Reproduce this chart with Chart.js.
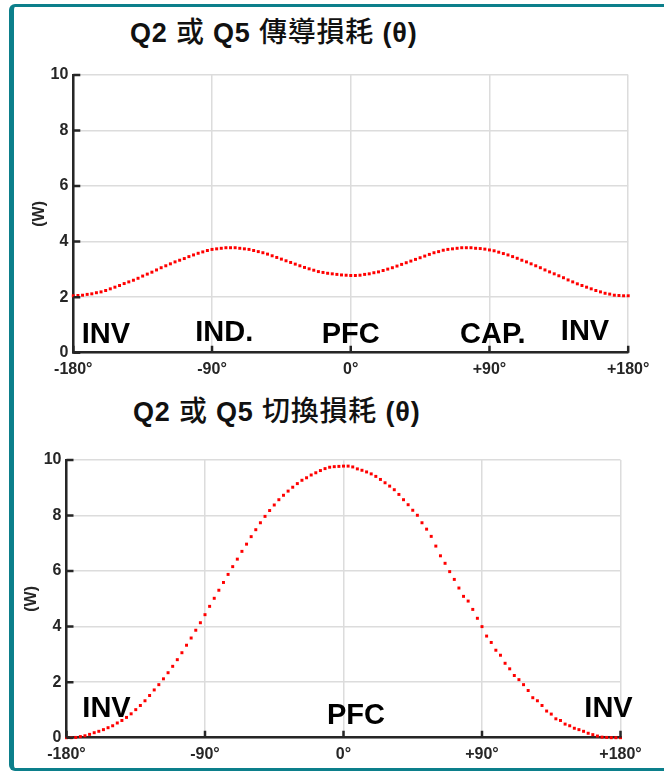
<!DOCTYPE html>
<html>
<head>
<meta charset="utf-8">
<script src="https://cdn.jsdelivr.net/npm/chart.js@4.4.1/dist/chart.umd.min.js"></script>
<style>
  html, body { margin: 0; padding: 0; background: #fff; }
  body { width: 664px; height: 773px; position: relative; overflow: hidden; }
  #frame {
    position: absolute; left: 9px; top: 4px; width: 720px; height: 761px;
    border: solid #0c7f8b; border-width: 3px 0 3px 5px; border-radius: 6px 0 0 6px;
  }
  canvas { position: absolute; left: 0; }
  #c1 { top: 0; }
  #c2 { top: 380px; }
  .title {
    position: absolute; white-space: nowrap; color: #111; letter-spacing: 0.8px;
    font: bold 27px "Liberation Sans", Arial, sans-serif; line-height: 30px;
  }
  .title .cjk { font-family: "Noto Sans CJK TC", sans-serif; font-weight: 500; font-size: 28px; }
</style>
</head>
<body>
<div id="frame"></div>
<div class="title" id="t1" style="left:130px; top:15px;">Q2 <span class="cjk">或</span> Q5 <span class="cjk">傳導損耗</span> (θ)</div>
<div class="title" id="t2" style="left:133px; top:394px;">Q2 <span class="cjk">或</span> Q5 <span class="cjk">切換損耗</span> (θ)</div>
<canvas id="c1" width="664" height="380"></canvas>
<canvas id="c2" width="664" height="393"></canvas>
<script>
// Phase angle θ in degrees (3° steps)
const angles = [
  -180,-177,-174,-171,-168,-165,-162,-159,-156,-153,
  -150,-147,-144,-141,-138,-135,-132,-129,-126,-123,
  -120,-117,-114,-111,-108,-105,-102,-99,-96,-93,
  -90,-87,-84,-81,-78,-75,-72,-69,-66,-63,
  -60,-57,-54,-51,-48,-45,-42,-39,-36,-33,
  -30,-27,-24,-21,-18,-15,-12,-9,-6,-3,
  0,3,6,9,12,15,18,21,24,27,
  30,33,36,39,42,45,48,51,54,57,
  60,63,66,69,72,75,78,81,84,87,
  90,93,96,99,102,105,108,111,114,117,
  120,123,126,129,132,135,138,141,144,147,
  150,153,156,159,162,165,168,171,174,177,
  180
];

// Q2 / Q5 conduction loss (W)
const conductionLoss = [
  2.05,2.06,2.07,2.10,2.12,2.16,2.19,2.24,2.30,2.36,
  2.42,2.49,2.55,2.61,2.68,2.76,2.83,2.90,2.98,3.06,
  3.13,3.20,3.27,3.33,3.39,3.46,3.52,3.58,3.63,3.68,
  3.72,3.74,3.76,3.78,3.78,3.78,3.76,3.74,3.72,3.68,
  3.64,3.60,3.55,3.49,3.43,3.37,3.31,3.25,3.19,3.13,
  3.07,3.02,2.97,2.92,2.89,2.86,2.84,2.82,2.80,2.79,
  2.78,2.78,2.79,2.82,2.84,2.88,2.91,2.96,3.01,3.06,
  3.12,3.18,3.24,3.30,3.36,3.42,3.48,3.54,3.60,3.64,
  3.69,3.72,3.74,3.76,3.78,3.78,3.78,3.76,3.75,3.73,
  3.70,3.67,3.62,3.57,3.52,3.46,3.40,3.33,3.27,3.20,
  3.13,3.06,2.98,2.91,2.84,2.77,2.70,2.62,2.55,2.48,
  2.42,2.36,2.30,2.24,2.19,2.14,2.11,2.07,2.06,2.05,
  2.05
];

// Q2 / Q5 switching loss (W)
const switchingLoss = [
  0.00,0.00,0.01,0.04,0.07,0.12,0.18,0.23,0.29,0.36,
  0.43,0.53,0.62,0.73,0.86,1.01,1.16,1.33,1.52,1.72,
  1.91,2.12,2.34,2.57,2.81,3.06,3.33,3.59,3.87,4.14,
  4.43,4.73,5.02,5.31,5.59,5.88,6.16,6.43,6.71,6.97,
  7.24,7.49,7.74,7.97,8.18,8.38,8.57,8.73,8.88,9.02,
  9.15,9.27,9.36,9.46,9.54,9.62,9.69,9.74,9.76,9.77,
  9.78,9.78,9.75,9.68,9.63,9.57,9.50,9.41,9.30,9.18,
  9.06,8.93,8.76,8.57,8.39,8.19,8.01,7.74,7.51,7.25,
  6.90,6.55,6.28,5.98,5.70,5.39,5.09,4.92,4.62,4.30,
  4.00,3.66,3.43,3.15,2.97,2.68,2.48,2.24,2.09,1.91,
  1.70,1.44,1.33,1.16,0.96,0.85,0.68,0.62,0.49,0.43,
  0.34,0.29,0.23,0.16,0.11,0.06,0.02,0.01,0.00,0.00,
  0.00
];

const xTickValues = [-180, -90, 0, 90, 180];
const xTickLabels = ['-180°', '-90°', '0°', '+90°', '+180°'];
const yTickValues = [0, 2, 4, 6, 8, 10];
const yTickLabels = ['0', '2', '4', '6', '8', '10'];

// Operating-region captions, anchored at (θ, W)
const conductionRegions = ['INV', 'IND.', 'PFC', 'CAP.', 'INV'];
const conductionRegionAngles = [-158.8, -82.1, 0, 92.2, 152];
const conductionRegionLevels = [0.35, 0.42, 0.35, 0.35, 0.45];
const switchingRegions = ['INV', 'PFC', 'INV'];
const switchingRegionAngles = [-154, 8.1, 172.2];
const switchingRegionLevels = [0.75, 0.49, 0.75];

const AXIS_COLOR = '#262626';
const TICK_FONT = { family: '"Liberation Sans", Arial, sans-serif', size: 16, weight: 'bold' };

// Region captions sit beneath the markers
const regionLabelPlugin = {
  id: 'regionLabels',
  beforeDatasetsDraw(chart, args, opts) {
    const { ctx, scales: { x, y } } = chart;
    ctx.save();
    ctx.font = 'bold 29px "Liberation Sans", Arial, sans-serif';
    ctx.fillStyle = '#000';
    ctx.textAlign = 'center';
    ctx.textBaseline = 'alphabetic';
    opts.texts.forEach((t, i) => {
      ctx.fillText(t, x.getPixelForValue(opts.angles[i]), y.getPixelForValue(opts.levels[i]));
    });
    ctx.restore();
  }
};

// Tick marks pointing into the plot area
const innerTickPlugin = {
  id: 'innerTicks',
  afterDraw(chart) {
    const { ctx, chartArea: a, scales: { x, y } } = chart;
    ctx.save();
    ctx.strokeStyle = AXIS_COLOR;
    ctx.lineWidth = 2.5;
    ctx.beginPath();
    y.ticks.forEach(t => {
      const py = y.getPixelForValue(t.value);
      ctx.moveTo(a.left, py); ctx.lineTo(a.left + 7, py);
    });
    x.ticks.forEach(t => {
      const px = x.getPixelForValue(t.value);
      ctx.moveTo(px, a.bottom); ctx.lineTo(px, a.bottom - 7);
    });
    ctx.stroke();
    ctx.restore();
  }
};

function makeChart(canvasId, values, regions, layout) {
  return new Chart(document.getElementById(canvasId), {
    type: 'line',
    data: {
      datasets: [{
        data: angles.map((a, i) => ({ x: a, y: values[i] })),
        showLine: false,
        pointStyle: 'rect',
        pointRadius: 2.1,
        pointBackgroundColor: '#ff0000',
        pointBorderColor: '#ff0000',
        pointBorderWidth: 0,
        clip: false
      }]
    },
    options: {
      responsive: false,
      animation: false,
      devicePixelRatio: 1,
      layout: { padding: { left: 0, top: layout.top, right: layout.right, bottom: 0 } },
      plugins: {
        legend: { display: false },
        tooltip: { enabled: false },
        regionLabels: regions
      },
      scales: {
        x: {
          type: 'linear', min: -180, max: 180,
          afterBuildTicks: s => { s.ticks = xTickValues.map(v => ({ value: v })); },
          afterFit: s => { s.height = layout.xHeight; },
          ticks: {
            callback: (v, i) => xTickLabels[i],
            font: TICK_FONT, color: AXIS_COLOR, padding: 7,
            maxRotation: 0, autoSkip: false
          },
          grid: { color: '#dcdcdc', lineWidth: 1.5, drawTicks: false },
          border: { display: true, color: AXIS_COLOR, width: 2.5 }
        },
        y: {
          min: 0, max: 10,
          afterBuildTicks: s => { s.ticks = yTickValues.map(v => ({ value: v })); },
          afterFit: s => { s.width = layout.yWidth; },
          ticks: {
            callback: (v, i) => yTickLabels[i],
            font: TICK_FONT, color: AXIS_COLOR, padding: 5
          },
          grid: { color: '#dcdcdc', lineWidth: 1.5, drawTicks: false },
          border: { display: true, color: AXIS_COLOR, width: 2.5 },
          title: {
            display: true, text: '(W)', color: AXIS_COLOR,
            font: { family: '"Liberation Sans", Arial, sans-serif', size: 16, weight: 'bold' },
            padding: { top: layout.titleOffset, bottom: 0 }
          }
        }
      }
    },
    plugins: [regionLabelPlugin, innerTickPlugin]
  });
}

makeChart('c1', conductionLoss,
  { texts: conductionRegions, angles: conductionRegionAngles, levels: conductionRegionLevels },
  { top: 75, right: 35.8, xHeight: 27.3, yWidth: 73.3, titleOffset: 30.4 });

makeChart('c2', switchingLoss,
  { texts: switchingRegions, angles: switchingRegionAngles, levels: switchingRegionLevels },
  { top: 80, right: 43.5, xHeight: 35.3, yWidth: 66.5, titleOffset: 22.4 });
</script>
</body>
</html>
